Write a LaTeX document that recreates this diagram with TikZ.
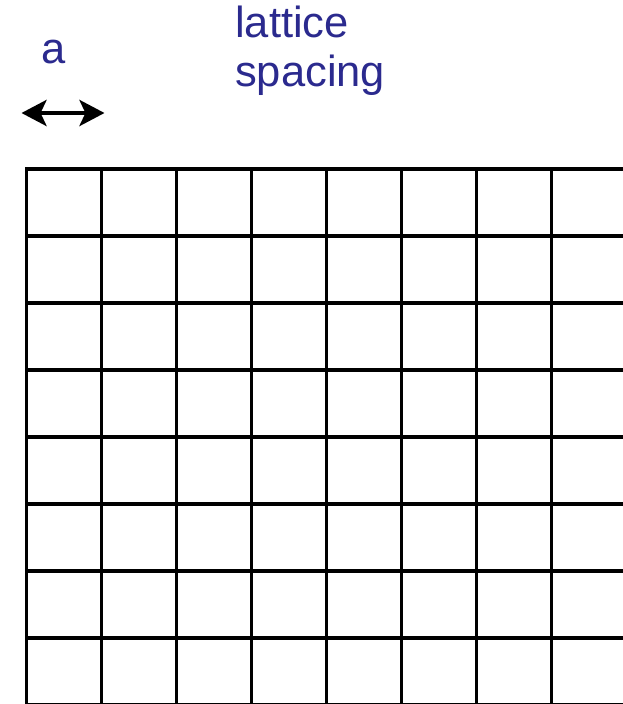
\documentclass[tikz,border=0pt]{standalone}
\usepackage{fontspec}
\setmainfont{Liberation Sans}
\usetikzlibrary{arrows.meta}
\definecolor{latblue}{HTML}{2B2A8E}

\begin{document}
\begin{tikzpicture}[x=1pt,y=-1pt,
    >={Stealth[length=25pt,width=26pt,inset=6pt]},
    gridline/.style={black,line width=3.2pt},
    lbl/.style={latblue,inner sep=0pt,anchor=base west,
      font=\fontsize{43.5}{49}\selectfont}]
  \useasboundingbox (0,0) rectangle (622,704);
  % lattice
  \foreach \i in {0,...,8}
    \draw[gridline] (25,169+67*\i) -- (623,169+67*\i);
  \foreach \j in {0,...,7}
    \draw[gridline] (26.5+75*\j,167.5) -- (26.5+75*\j,706);
  % spacing arrow
  \coordinate (aleft) at (21.5,113);
  \coordinate (aright) at (104.5,113);
  \draw[line width=4.5pt,<->] (aleft) -- (aright);
  \node[lbl] (alabel) at (41,63) {a};
  \node[lbl] (lattlabel) at (235,37) {lattice};
  \node[lbl] (spacelabel) at (235,86) {spacing};
\end{tikzpicture}
\end{document}
